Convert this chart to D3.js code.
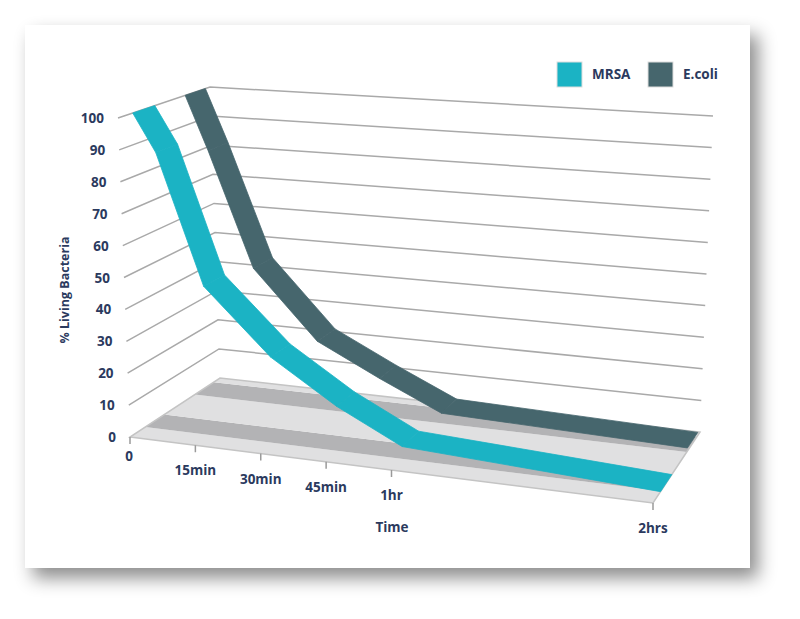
<!DOCTYPE html>
<html><head><meta charset="utf-8">
<script src="https://cdn.jsdelivr.net/npm/d3@7"></script>
<style>body{margin:0;background:#fff}svg{display:block}</style>
</head><body>
<script>
const times = [0, 5, 15, 30, 45, 60, 120];          // minutes
const mrsa  = [100, 88, 47, 27, 14, 4, 0];
const ecoli = [100, 82, 44, 22, 12, 3, 1];
const tickTimes  = [0, 15, 30, 45, 60, 120];
const tickLabels = ["0", "15min", "30min", "45min", "1hr", "2hrs"];
const valueTicks = [0,10,20,30,40,50,60,70,80,90,100];
const seriesNames = ["MRSA", "E.coli"];
const colors = ["#1bb3c4", "#46666d"];

const W = 800, H = 619;
const svg = d3.select("body").append("svg").attr("width", W).attr("height", H);
const defs = svg.append("defs");
const f = defs.append("filter").attr("id","sh").attr("x","-10%").attr("y","-10%").attr("width","130%").attr("height","130%");
f.append("feDropShadow").attr("dx",8).attr("dy",10).attr("stdDeviation",9).attr("flood-color","#000").attr("flood-opacity",0.45);
svg.append("rect").attr("x",25).attr("y",25).attr("width",725).attr("height",543).attr("fill","#fff").attr("filter","url(#sh)");

const xs = d3.scaleLinear().domain([0,120]).range([0,1]);
const ys = d3.scaleLinear().domain([0,100]).range([0,1]);
const C = {
  F0L:[130,437], F0R:[653,503], B0L:[220,378], B0R:[700,432],
  F1L:[118,118], F1R:[641,160], B1L:[210,87],  B1R:[713,116]
};
const lerp=(a,b,t)=>[a[0]+(b[0]-a[0])*t, a[1]+(b[1]-a[1])*t];
function P(t, v, d){
  const u = xs(t), w = ys(v);
  const f0 = lerp(C.F0L,C.F0R,u), b0 = lerp(C.B0L,C.B0R,u);
  const f1 = lerp(C.F1L,C.F1R,u), b1 = lerp(C.B1L,C.B1R,u);
  return lerp(lerp(f0,b0,d), lerp(f1,b1,d), w);
}
const poly = pts => "M" + pts.map(p=>p.join(",")).join("L") + "Z";
const g = svg.append("g");
const grid = "#a9a9a9";

const bands = [[0,0.17,"#e0e0e1"],[0.17,0.38,"#b3b3b5"],[0.38,0.72,"#e0e0e1"],[0.72,0.93,"#b3b3b5"],[0.93,1,"#e0e0e1"]];
bands.forEach(b=>{
  g.append("path").attr("d", poly([P(0,0,b[0]),P(120,0,b[0]),P(120,0,b[1]),P(0,0,b[1])])).attr("fill",b[2]);
});
g.append("path").attr("d", poly([P(0,0,0),P(120,0,0),P(120,0,1),P(0,0,1)])).attr("fill","none").attr("stroke","#c4c4c4").attr("stroke-width",1.5);

valueTicks.forEach(v=>{
  if (v>0) {
    const a=P(0,v,0), b=P(0,v,1), c=P(120,v,1);
    g.append("path").attr("d",`M${a}L${b}L${c}`).attr("fill","none").attr("stroke",grid).attr("stroke-width",1.5);
  }
  const a=P(0,v,0);
  g.append("text").attr("x",a[0]-14).attr("y",a[1]+5).attr("text-anchor","end").text(v);
});
tickTimes.forEach((t,i)=>{
  const a=P(t,0,0);
  g.append("line").attr("x1",a[0]).attr("y1",a[1]).attr("x2",a[0]).attr("y2",a[1]+7).attr("stroke","#9a9a9a").attr("stroke-width",1.5);
  g.append("text").attr("x",a[0]).attr("y",a[1]+(i===0?24:30)).attr("text-anchor",i===0?"end":"middle").attr("dx",i===0?3:0).text(tickLabels[i]);
});

const ribbons = [[ecoli,0.73,0.95,colors[1]],[mrsa,0.16,0.40,colors[0]]];
ribbons.forEach(([vals,d0,d1,col])=>{
  for(let i=0;i<times.length-1;i++){
    const pts=[P(times[i],vals[i],d0),P(times[i+1],vals[i+1],d0),P(times[i+1],vals[i+1],d1),P(times[i],vals[i],d1)];
    g.append("path").attr("d",poly(pts)).attr("fill",col).attr("stroke",col).attr("stroke-width",0.8);
  }
});

svg.selectAll("text").attr("font-family","Open Sans, sans-serif").attr("font-weight","bold").attr("font-size",13.5).attr("fill","#2b3a5e");

const txt=(x,y,s,opt={})=>{const t=svg.append("text").attr("x",x).attr("y",y).text(s)
  .attr("font-family","Open Sans, sans-serif").attr("font-weight","bold").attr("font-size",opt.fs||13.5).attr("fill","#2b3a5e").attr("text-anchor",opt.a||"start");
  if(opt.rot) t.attr("transform",`rotate(-90,${x},${y})`); return t;};
txt(392,532,"Time",{a:"middle"});
txt(69,290,"% Living Bacteria",{a:"middle",rot:true,fs:12.5});

const lx=[557,648];
seriesNames.forEach((n,i)=>{
  svg.append("rect").attr("x",lx[i]).attr("y",62).attr("width",25).attr("height",25).attr("fill",colors[i]).attr("stroke","#ddd");
  txt(lx[i]+35,79,n);
});
</script>
</body></html>
